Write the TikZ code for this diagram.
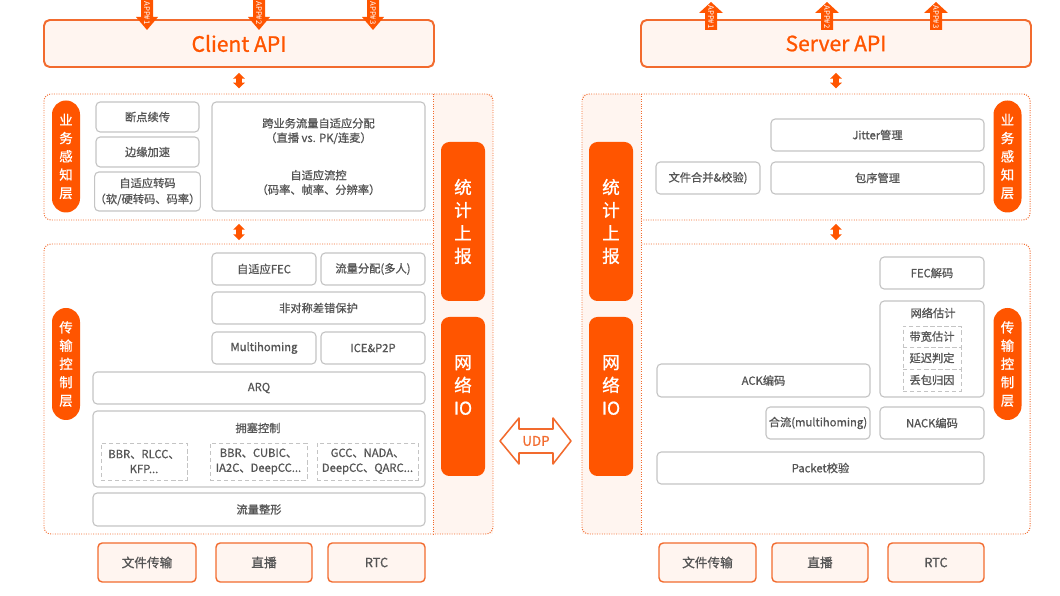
\documentclass[tikz,border=0pt]{standalone}
\usepackage{fontspec}
\setmainfont{Noto Sans CJK SC}
\newfontfamily\medfont{Noto Sans CJK SC}[FakeBold=0.9]
\usetikzlibrary{arrows.meta}
\definecolor{brandorange}{HTML}{FF5500}
\definecolor{lineorange}{HTML}{F26B2E}
\definecolor{palepink}{HTML}{FFF5F0}
\definecolor{boxgray}{HTML}{C4C4C4}
\definecolor{textgray}{HTML}{555555}
\newdimen\pxu \pxu=0.025cm

\begin{document}
\begin{tikzpicture}[x=0.025cm,y=-0.025cm,
    gb/.style 2 args={draw=boxgray,line width=0.8pt,rounded corners=3pt,fill=white,text=textgray,
      font=\medfont\fontsize{8}{11.3}\selectfont,align=center,inner sep=0pt,minimum width=#1\pxu,minimum height=#2\pxu},
    subbox/.style 2 args={draw=boxgray,densely dashed,line width=0.7pt,text=textgray,
      font=\medfont\fontsize{8}{10.6}\selectfont,align=center,inner sep=0pt,minimum width=#1\pxu,minimum height=#2\pxu},
    boxtxt/.style={text=textgray,font=\medfont\fontsize{8}{10.3}\selectfont,align=center},
    apibox/.style={draw=lineorange,line width=1.4pt,fill=palepink,rounded corners=4pt,text=brandorange,
      font=\medfont\fontsize{15}{18}\selectfont,minimum width=390\pxu,minimum height=47\pxu},
    scenebox/.style={draw=lineorange,line width=1pt,fill=palepink,rounded corners=3pt,text=textgray,
      font=\medfont\fontsize{9}{11}\selectfont,minimum width=#1\pxu,minimum height=39\pxu},
    sidecap/.style={fill=brandorange,rounded corners=0.35cm,text=white,font=\medfont\fontsize{9.5}{13}\selectfont,
      align=center,inner sep=0pt,minimum width=28\pxu,minimum height=112\pxu},
    sidebar/.style={fill=brandorange,rounded corners=6pt,text=white,font=\medfont\fontsize{12.5}{16.3}\selectfont,
      align=center,inner sep=0pt,minimum width=44\pxu,minimum height=159\pxu},
    bartxt/.style={text=white,font=\medfont\fontsize{12.5}{16.3}\selectfont,align=center},
    layer/.style={draw=lineorange,densely dotted,line width=0.7pt,rounded corners=5pt},
    dblarrow/.style={brandorange,line width=4pt,{Triangle[width=8pt,length=4pt]}-{Triangle[width=8pt,length=4pt]}},
    appar/.style={fill=brandorange},
    apptxt/.style={text=white,font=\fontsize{5.5}{6}\selectfont,rotate=-90,inner sep=0pt}]
    \useasboundingbox (0,0) rectangle (1060,596);

    % client side frames
    \fill[palepink] (433,94) rectangle (493,534);
    \draw[layer] (433,220) -- (44,220) -- (44,94) -- (493,94) -- (493,534) -- (44,534) -- (44,244) -- (433,244);
    \draw[layer] (433,94) -- (433,534);
    % server side frames
    \fill[palepink] (582,94) rectangle (641,534);
    \draw[layer] (641,220) -- (1030,220) -- (1030,94) -- (582,94) -- (582,534) -- (1030,534) -- (1030,244) -- (641,244);
    \draw[layer] (641,94) -- (641,534);
    \coordinate (cup) at (239,94);
    \coordinate (cmt) at (239,220);
    \coordinate (cmb) at (239,244);
    \coordinate (sup) at (836,94);
    \coordinate (smt) at (836,220);
    \coordinate (smb) at (836,244);

    % API boxes
    \node[apibox] (capi) at (239,43.5) {Client API};
    \node[apibox] (sapi) at (836,43.5) {Server API};
    \fill[appar] (141,0) -- (153,0) -- (153,17) -- (158,17) -- (147,30) -- (136,17) -- (141,17) -- cycle;
    \node[apptxt] (ca1) at (147,13) {APP\#1};
    \fill[appar] (253,0) -- (265,0) -- (265,17) -- (270,17) -- (259,30) -- (248,17) -- (253,17) -- cycle;
    \node[apptxt] (ca2) at (259,13) {APP\#2};
    \fill[appar] (367,0) -- (379,0) -- (379,17) -- (384,17) -- (373,30) -- (362,17) -- (367,17) -- cycle;
    \node[apptxt] (ca3) at (373,13) {APP\#3};
    \fill[appar] (711,2) -- (723,13) -- (717,13) -- (717,30) -- (705,30) -- (705,13) -- (699,13) -- cycle;
    \node[apptxt] (sa1) at (711,17) {APP\#1};
    \fill[appar] (827,2) -- (839,13) -- (833,13) -- (833,30) -- (821,30) -- (821,13) -- (815,13) -- cycle;
    \node[apptxt] (sa2) at (827,17) {APP\#2};
    \fill[appar] (936,2) -- (948,13) -- (942,13) -- (942,30) -- (930,30) -- (930,13) -- (924,13) -- cycle;
    \node[apptxt] (sa3) at (936,17) {APP\#3};
    \draw[dblarrow,shorten <=3.5pt,shorten >=4pt] (capi.south) -- (cup);
    \draw[dblarrow,shorten <=2.8pt,shorten >=2.8pt] (cmt) -- (cmb);
    \draw[dblarrow,shorten <=3.5pt,shorten >=4pt] (sapi.south) -- (sup);
    \draw[dblarrow,shorten <=2.8pt,shorten >=2.8pt] (smt) -- (smb);

    % client, upper layer
    \node[sidecap] (cyw) at (66,156.5) {业\\务\\感\\知\\层};
    \node[gb={103}{30}] (ddxc) at (147.5,117) {断点续传};
    \node[gb={103}{30}] (byjs) at (147.5,152) {边缘加速};
    \node[gb={103}{39}] (zsyzm) at (147.5,191.5) {自适应转码\\（软/硬转码、码率）};
    \node[gb={213}{109}] (kyw) at (318.5,156.5) {};
    \node[boxtxt] (kyw1) at (318.5,131) {跨业务流量自适应分配\\（直播 vs. PK/连麦）};
    \node[boxtxt] (kyw2) at (318.5,182.5) {自适应流控\\（码率、帧率、分辨率）};

    % client, lower layer
    \node[sidecap] (ccs) at (66,364) {传\\输\\控\\制\\层};
    \node[gb={104}{32}] (zfec) at (264,269) {自适应FEC};
    \node[gb={104}{32}] (llfp) at (373,269) {流量分配(多人)};
    \node[gb={213}{32}] (fdc) at (318.5,308) {非对称差错保护};
    \node[gb={104}{32}] (mh) at (264,348) {Multihoming};
    \node[gb={104}{32}] (ice) at (373,348) {ICE\&P2P};
    \node[gb={332}{32}] (arq) at (259,388) {ARQ};
    \node[gb={332}{76}] (yskz) at (259,449) {};
    \node[boxtxt] (yskzt) at (258,428) {拥塞控制};
    \node[subbox={86}{37}] (cc1) at (144,461.5) {BBR、RLCC、\\KFP...};
    \node[subbox={97}{37}] (cc2) at (258.5,461.5) {BBR、CUBIC、\\IA2C、DeepCC...};
    \node[subbox={101}{37}] (cc3) at (367.5,461.5) {GCC、NADA、\\DeepCC、QARC...};
    \node[gb={332}{33}] (llzx) at (259,509.5) {流量整形};

    % client, side bars
    \node[sidebar] (ctj) at (463,221.5) {统\\计\\上\\报};
    \node[sidebar] (cwl) at (463,396.5) {};
    \node[bartxt] (cwlt) at (463,385) {网\\络\\IO};

    % server, side bars
    \node[sidebar] (stj) at (611,221.5) {统\\计\\上\\报};
    \node[sidebar] (swl) at (611,396.5) {};
    \node[bartxt] (swlt) at (611,385) {网\\络\\IO};

    % server, upper layer
    \node[sidecap] (syw) at (1007.5,156.5) {业\\务\\感\\知\\层};
    \node[gb={213}{32}] (jit) at (877.5,135) {Jitter管理};
    \node[gb={104}{32}] (wjhb) at (708,178) {文件合并\&校验)};
    \node[gb={213}{32}] (bxgl) at (877.5,178) {包序管理};

    % server, lower layer
    \node[sidecap] (scs) at (1007.5,364) {传\\输\\控\\制\\层};
    \node[gb={104}{32}] (fecjm) at (932,273) {FEC解码};
    \node[gb={104}{96}] (wlgj) at (932,349) {};
    \node[boxtxt] (wlgjt) at (933,313) {网络估计};
    \node[subbox={58}{21}] (dkgj) at (932,336.5) {带宽估计};
    \node[subbox={58}{22}] (ycpd) at (932,358) {延迟判定};
    \node[subbox={58}{22}] (dbgy) at (932,380) {丢包归因};
    \node[gb={213}{33}] (ackbm) at (763.5,380.5) {ACK编码};
    \node[gb={104}{32}] (hl) at (818,423) {合流(multihoming)};
    \node[gb={104}{32}] (nackbm) at (932,423) {NACK编码};
    \node[gb={327}{32}] (pkt) at (820.5,468) {Packet校验};

    % UDP between the two IO bars
    \draw[lineorange,line width=1.1pt,fill=white,line join=round] (500,441) -- (519,418) -- (519,429) -- (553,429) -- (553,418) -- (571,441) -- (553,464) -- (553,453) -- (519,453) -- (519,464) -- cycle;
    \node[text=lineorange,font=\medfont\fontsize{9.5}{11}\selectfont] (udp) at (536,441) {UDP};

    % scenes
    \node[scenebox=98] (cwj) at (147,562.5) {文件传输};
    \node[scenebox=96] (czb) at (264,562.5) {直播};
    \node[scenebox=97] (crtc) at (376.5,562.5) {RTC};
    \node[scenebox=97] (swj) at (707.5,562.5) {文件传输};
    \node[scenebox=96] (szb) at (820,562.5) {直播};
    \node[scenebox=96] (srtc) at (936,562.5) {RTC};
\end{tikzpicture}
\end{document}
